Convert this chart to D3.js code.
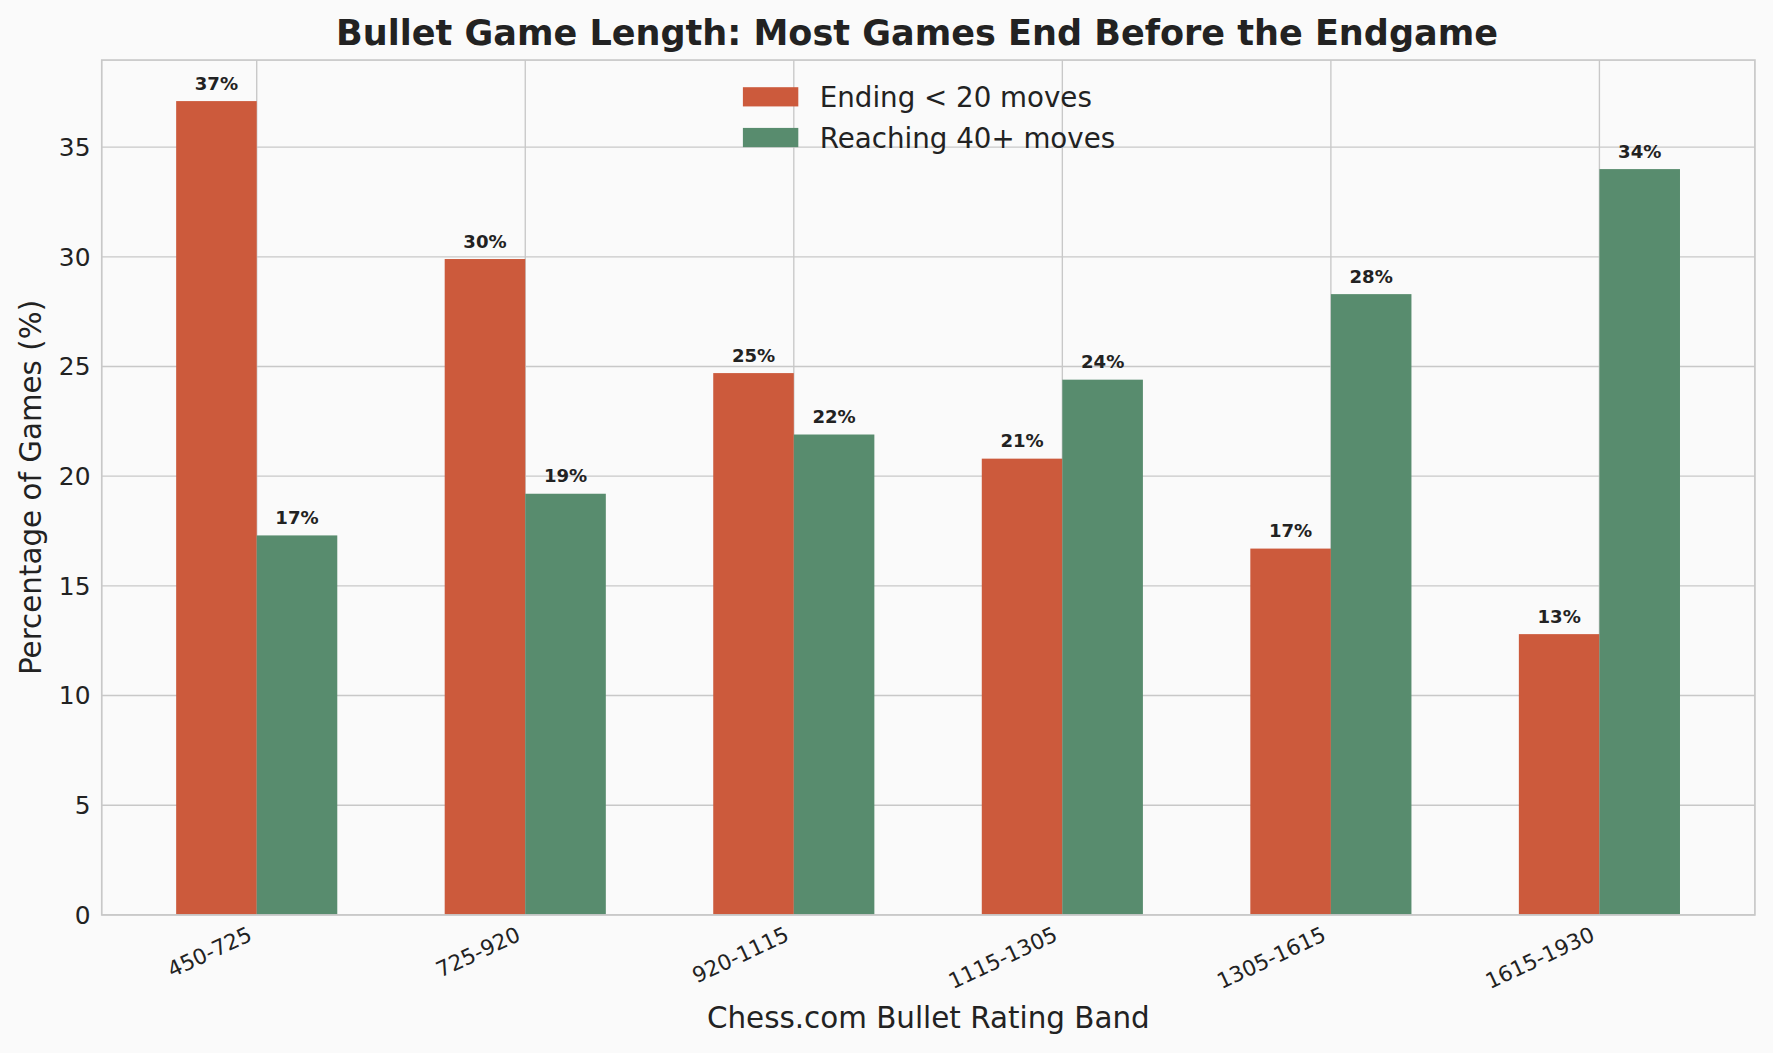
<!DOCTYPE html>
<html><head><meta charset="utf-8">
<script src="https://cdn.jsdelivr.net/npm/d3@7"></script>
<style>body{margin:0;background:#fafafa;font-family:"DejaVu Sans",sans-serif}</style>
</head><body><div id="chart"></div>
<script>
var categories = ["450-725","725-920","920-1115","1115-1305","1305-1615","1615-1930"];
var shortGames = [37.1, 29.9, 24.7, 20.8, 16.7, 12.8];
var longGames = [17.3, 19.2, 21.9, 24.4, 28.3, 34.0];
var seriesNames = ["Ending < 20 moves", "Reaching 40+ moves"];
var colors = ["#cc5a3c", "#588c6e"];
var yTicks = [0,5,10,15,20,25,30,35];

var W = 1568, H = 931, pLeft = 90, pRight = 1552, pTop = 53, pBottom = 809;
var svg = d3.select("#chart").append("svg")
    .attr("width", 1773).attr("height", 1053)
    .attr("viewBox", "0 0 " + W + " " + H);
svg.append("rect").attr("width", W).attr("height", H).attr("fill", "#fafafa");

var x = d3.scaleLinear().domain([-0.577, 5.579]).range([pLeft, pRight]);
var y = d3.scaleLinear().domain([0, 38.97]).range([pBottom, pTop]);
var bw = 0.3;

// grid
svg.selectAll(".gy").data(yTicks).enter().append("line")
    .attr("x1", pLeft).attr("x2", pRight)
    .attr("y1", function(d){return y(d);}).attr("y2", function(d){return y(d);})
    .attr("stroke", "#c8c8c8").attr("stroke-width", 1.2);
svg.selectAll(".gx").data(categories).enter().append("line")
    .attr("x1", function(d,i){return x(i);}).attr("x2", function(d,i){return x(i);})
    .attr("y1", pTop).attr("y2", pBottom)
    .attr("stroke", "#c8c8c8").attr("stroke-width", 1.2);

// bars
[shortGames, longGames].forEach(function(vals, s) {
    var off = s === 0 ? -bw : 0;
    svg.selectAll(".b" + s).data(vals).enter().append("rect")
        .attr("x", function(d,i){return x(i + off);})
        .attr("width", x(bw) - x(0))
        .attr("y", function(d){return y(d);})
        .attr("height", function(d){return pBottom - y(d);})
        .attr("fill", colors[s]);
    svg.selectAll(".t" + s).data(vals).enter().append("text")
        .attr("x", function(d,i){return x(i + off + bw/2);})
        .attr("y", function(d){return y(d) - 10;})
        .attr("text-anchor", "middle").attr("font-size", 16).attr("font-weight", "bold")
        .attr("fill", "#222")
        .text(function(d){return Math.round(d) + "%";});
});

// frame
svg.append("rect").attr("x", pLeft).attr("y", pTop).attr("width", pRight-pLeft).attr("height", pBottom-pTop)
    .attr("fill", "none").attr("stroke", "#c8c8c8").attr("stroke-width", 1.5);

// y ticks
svg.selectAll(".yl").data(yTicks).enter().append("text")
    .attr("x", pLeft - 10).attr("y", function(d){return y(d);}).attr("dy", "0.35em")
    .attr("text-anchor", "end").attr("font-size", 22).attr("fill", "#222")
    .text(function(d){return d;});
// x ticks
svg.selectAll(".xl").data(categories).enter().append("text")
    .attr("transform", function(d,i){return "translate(" + (x(i)-3) + "," + (pBottom + 22) + ") rotate(-25)";})
    .attr("text-anchor", "end").attr("font-size", 19).attr("fill", "#222")
    .text(function(d){return d;});

svg.append("text").attr("x", (pLeft+pRight)/2).attr("y", 909).attr("text-anchor", "middle")
    .attr("font-size", 26).attr("fill", "#222").text("Chess.com Bullet Rating Band");
svg.append("text").attr("transform", "translate(36," + ((pTop+pBottom)/2) + ") rotate(-90)")
    .attr("text-anchor", "middle").attr("font-size", 26).attr("fill", "#222").text("Percentage of Games (%)");
svg.append("text").attr("x", (pLeft+pRight)/2 - 10).attr("y", 40).attr("text-anchor", "middle")
    .attr("font-size", 31).attr("font-weight", "bold").attr("fill", "#222")
    .text("Bullet Game Length: Most Games End Before the Endgame");

// legend
seriesNames.forEach(function(n, i) {
    svg.append("rect").attr("x", 657).attr("y", 77 + i*36).attr("width", 49).attr("height", 17).attr("fill", colors[i]);
    svg.append("text").attr("x", 725).attr("y", 86 + i*36).attr("dy", "0.35em")
        .attr("font-size", 24.5).attr("fill", "#222").text(n);
});
</script></body></html>
